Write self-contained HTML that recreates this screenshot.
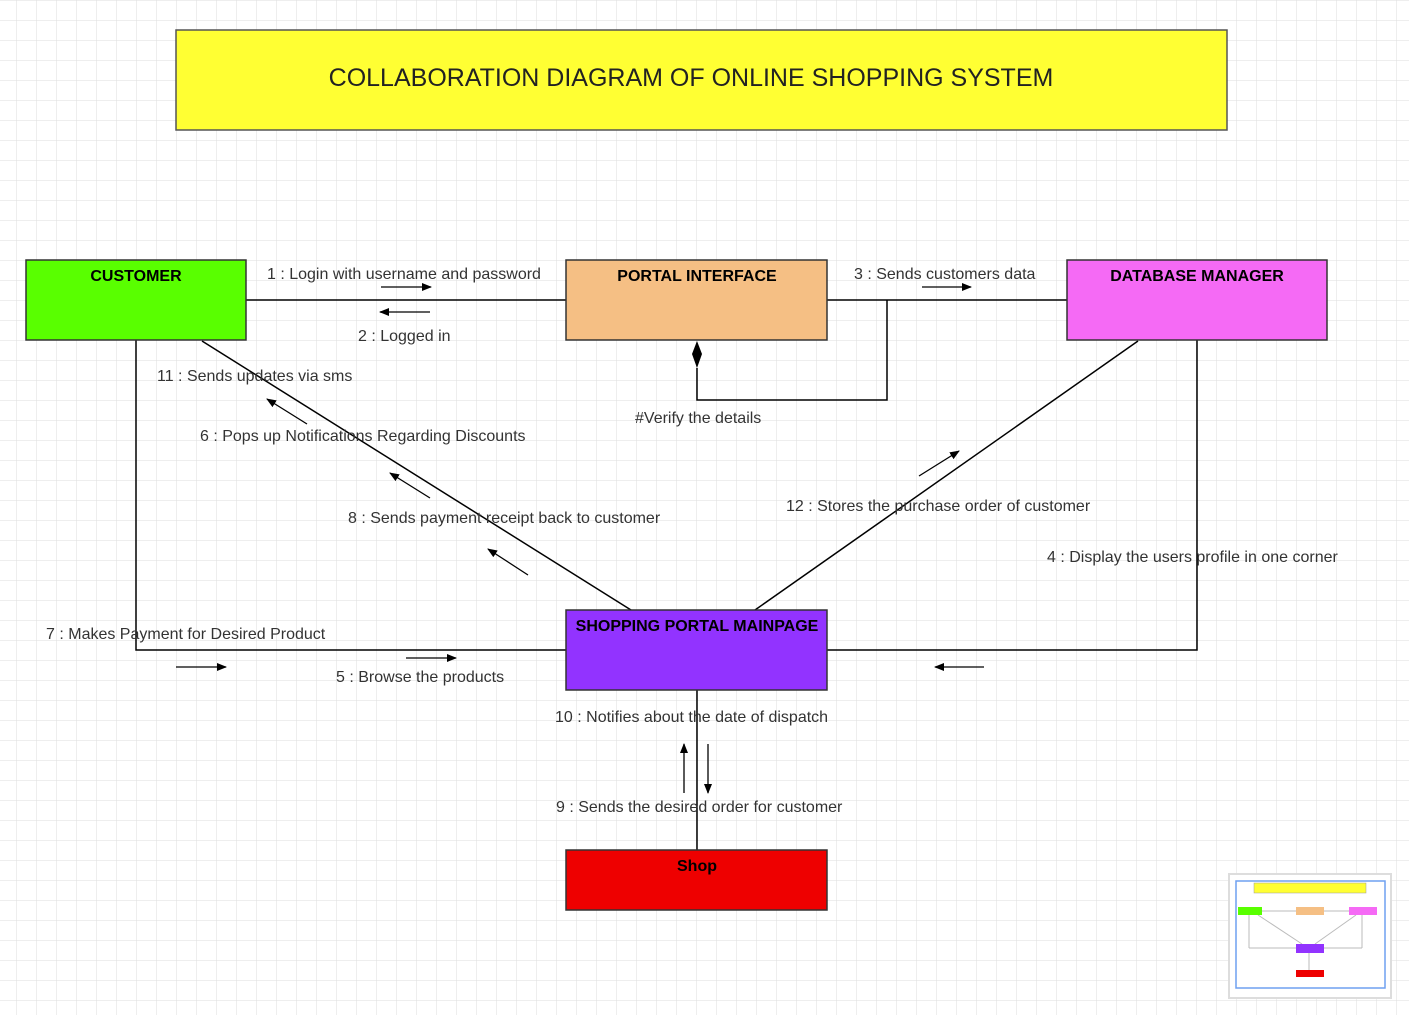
<!DOCTYPE html>
<html><head><meta charset="utf-8"><style>
html,body{margin:0;padding:0;background:#fff;}
svg{display:block;font-family:"Liberation Sans",Arial,sans-serif;}
</style></head><body>
<svg width="1409" height="1015" viewBox="0 0 1409 1015" xmlns="http://www.w3.org/2000/svg">
<defs>
<pattern id="g" x="16" y="0" width="20" height="20" patternUnits="userSpaceOnUse">
<path d="M0 0H20M0 0V20" stroke="#dedede" stroke-width="1" fill="none"/>
</pattern>
<marker id="a" markerWidth="10" markerHeight="8" refX="9" refY="4" orient="auto" markerUnits="userSpaceOnUse"><path d="M0 0L10 4L0 8Z" fill="#000"/></marker>
</defs>
<rect width="1409" height="1015" fill="url(#g)"/>
<rect x="176" y="30" width="1051" height="100" fill="#ffff33" stroke="#555" stroke-width="1.5"/>
<text x="691" y="86" font-size="25" text-anchor="middle" fill="#222">COLLABORATION DIAGRAM OF ONLINE SHOPPING SYSTEM</text>
<g stroke="#000" stroke-width="1.5" fill="none">
<line x1="246" y1="300" x2="566" y2="300"/>
<line x1="827" y1="300" x2="1067" y2="300"/>
<polyline points="887,300 887,400 697,400 697,368"/>
<line x1="202" y1="341" x2="631" y2="610"/>
<polyline points="136,340 136,650 566,650"/>
<polyline points="1197,340 1197,650 827,650"/>
<line x1="1138" y1="341" x2="755" y2="610"/>
<line x1="697" y1="690" x2="697" y2="850"/>
</g>
<path d="M697 341L702 354L697 368L692 354Z" fill="#000"/>
<g stroke="#000" stroke-width="1.3" marker-end="url(#a)">
<line x1="381" y1="287" x2="431" y2="287"/>
<line x1="430" y1="312" x2="380" y2="312"/>
<line x1="922" y1="287" x2="971" y2="287"/>
<line x1="307" y1="424" x2="267" y2="399"/>
<line x1="430" y1="498" x2="390" y2="473"/>
<line x1="528" y1="575" x2="488" y2="549"/>
<line x1="919" y1="476" x2="959" y2="451"/>
<line x1="176" y1="667" x2="226" y2="667"/>
<line x1="406" y1="658" x2="456" y2="658"/>
<line x1="984" y1="667" x2="935" y2="667"/>
<line x1="684" y1="793" x2="684" y2="744"/>
<line x1="708" y1="744" x2="708" y2="793"/>
</g>
<rect x="26" y="260" width="220" height="80" fill="#59ff00" stroke="#333" stroke-width="1.5"/>
<text x="136" y="281" font-size="16" font-weight="bold" text-anchor="middle">CUSTOMER</text>
<rect x="566" y="260" width="261" height="80" fill="#f5bf84" stroke="#333" stroke-width="1.5"/>
<text x="697" y="281" font-size="16" font-weight="bold" text-anchor="middle">PORTAL INTERFACE</text>
<rect x="1067" y="260" width="260" height="80" fill="#f56af5" stroke="#333" stroke-width="1.5"/>
<text x="1197" y="281" font-size="16" font-weight="bold" text-anchor="middle">DATABASE MANAGER</text>
<rect x="566" y="610" width="261" height="80" fill="#9233ff" stroke="#333" stroke-width="1.5"/>
<text x="697" y="631" font-size="16" font-weight="bold" text-anchor="middle">SHOPPING PORTAL MAINPAGE</text>
<rect x="566" y="850" width="261" height="60" fill="#ee0000" stroke="#333" stroke-width="1.5"/>
<text x="697" y="871" font-size="16" font-weight="bold" text-anchor="middle">Shop</text>
<g font-size="16" fill="#333">
<text x="267" y="279">1 : Login with username and password</text>
<text x="358" y="341">2 : Logged in</text>
<text x="854" y="279">3 : Sends customers data</text>
<text x="635" y="423">#Verify the details</text>
<text x="157" y="381">11 : Sends updates via sms</text>
<text x="200" y="441">6 : Pops up Notifications Regarding Discounts</text>
<text x="348" y="523">8 : Sends payment receipt back to customer</text>
<text x="786" y="511">12 : Stores the purchase order of customer</text>
<text x="1047" y="562">4 : Display the users profile in one corner</text>
<text x="46" y="639">7 : Makes Payment for Desired Product</text>
<text x="336" y="682">5 : Browse the products</text>
<text x="555" y="722">10 : Notifies about the date of dispatch</text>
<text x="556" y="812">9 : Sends the desired order for customer</text>
</g>
<rect x="1229" y="874" width="162" height="124" fill="#fff" stroke="#ddd" stroke-width="2"/>
<rect x="1236" y="881" width="149" height="107" fill="#fff" stroke="#6fa0f0" stroke-width="1.5"/>
<rect x="1254" y="883" width="112" height="10" fill="#ffff33" stroke="#999" stroke-width="0.5"/>
<g stroke="#bbb" stroke-width="1" fill="none">
<line x1="1261" y1="911" x2="1349" y2="911"/>
<line x1="1249" y1="915" x2="1249" y2="948"/><line x1="1249" y1="948" x2="1296" y2="948"/>
<line x1="1362" y1="915" x2="1362" y2="948"/><line x1="1362" y1="948" x2="1323" y2="948"/>
<line x1="1258" y1="915" x2="1302" y2="944"/><line x1="1356" y1="915" x2="1315" y2="944"/>
<line x1="1309" y1="953" x2="1309" y2="970"/>
</g>
<rect x="1238" y="907" width="24" height="8" fill="#59ff00"/>
<rect x="1296" y="907" width="28" height="8" fill="#f5bf84"/>
<rect x="1349" y="907" width="28" height="8" fill="#f56af5"/>
<rect x="1296" y="944" width="28" height="9" fill="#9233ff"/>
<rect x="1296" y="970" width="28" height="7" fill="#ee0000"/>
</svg>
</body></html>
